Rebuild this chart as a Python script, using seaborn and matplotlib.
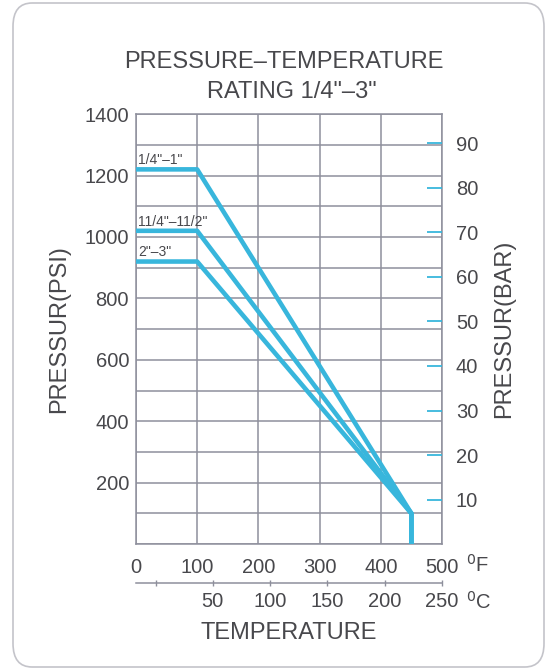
import numpy as np
import pandas as pd
import matplotlib.pyplot as plt
from matplotlib.patches import FancyBboxPatch
import seaborn as sns

# data
temp_f = [0, 100, 450, 450]
sizes = ['1/4"\u20131"', '11/4"\u201311/2"', '2"\u20133"']
psi_small = [1220, 1220, 100, 0]
psi_mid = [1020, 1020, 100, 0]
psi_large = [920, 920, 100, 0]

f_ticks = [0, 100, 200, 300, 400, 500]
c_ticks = [0, 50, 100, 150, 200, 250]
psi_ticks = [200, 400, 600, 800, 1000, 1200, 1400]
bar_ticks = [10, 20, 30, 40, 50, 60, 70, 80, 90]

PSI_PER_BAR = 14.5038
LINE = '#38b6dc'
TEXT = '#48484c'
GRID = '#8e8f9c'

sns.set_style('white')
plt.rcParams['font.family'] = ['Liberation Sans', 'DejaVu Sans']

df = pd.DataFrame({
    'temp': temp_f * 3,
    'psi': psi_small + psi_mid + psi_large,
    'size': [s for s in sizes for _ in temp_f],
})

fig = plt.figure(figsize=(5.46, 6.71), dpi=100)
fig.patch.set_facecolor('white')
box = FancyBboxPatch((13 / 546, 4 / 671), 531 / 546, 664 / 671,
                     boxstyle='round,pad=0,rounding_size=0.035',
                     transform=fig.transFigure, facecolor='white',
                     edgecolor='#c4c4ca', linewidth=1.2, zorder=-5)
fig.patches.append(box)

ax = fig.add_axes([0.249, 0.189, 0.5605, 0.641])
ax.patch.set_alpha(0)
for s in sizes:
    sub = df[df['size'] == s]
    sns.lineplot(data=sub, x='temp', y='psi', sort=False, estimator=None,
                 color=LINE, linewidth=3.3, ax=ax, zorder=3)

ax.set_xlim(0, 500)
ax.set_ylim(0, 1400)
ax.set_xticks(f_ticks)
ax.set_yticks(np.arange(0, 1401, 100), minor=False)
ax.set_yticklabels([str(v) if v in psi_ticks else '' for v in np.arange(0, 1401, 100)])
ax.grid(True, color=GRID, linewidth=1.1)
ax.tick_params(axis='both', length=0, labelsize=14.5, colors=TEXT)
ax.tick_params(axis='x', pad=10)
ax.tick_params(axis='y', pad=5)
for sp in ax.spines.values():
    sp.set_color(GRID)
    sp.set_linewidth(1.1)
ax.set_xlabel('')
ax.set_ylabel('PRESSUR(PSI)', fontsize=17, color=TEXT, labelpad=10)

# size labels above each flat section
for s, p in zip(sizes, [psi_small[0], psi_mid[0], psi_large[0]]):
    ax.text(4, p + 30, s, fontsize=10, color=TEXT, va='center', ha='left')

# right axis in bar
ax2 = ax.twinx()
ax2.set_ylim(0, 1400 / PSI_PER_BAR)
ax2.set_yticks(bar_ticks)
ax2.tick_params(axis='y', direction='in', length=11, width=1.3, color=LINE,
                labelsize=14.5, labelcolor=TEXT, pad=10)
for sp in ax2.spines.values():
    sp.set_visible(False)
ax2.set_ylabel('PRESSUR(BAR)', fontsize=17, color=TEXT, rotation=90, labelpad=11)

# celsius scale under the fahrenheit labels
sec = ax.secondary_xaxis(-0.09, functions=(lambda f: (f - 32) / 1.872,
                                            lambda c: c * 1.872 + 32))
sec.set_xticks(c_ticks)
sec.set_xticklabels([''] + [str(c) for c in c_ticks[1:]])
sec.tick_params(axis='x', direction='inout', length=5, width=1, color=GRID,
                labelsize=14.5, labelcolor=TEXT, pad=4)
sec.spines['bottom'].set_color(GRID)
sec.spines['bottom'].set_linewidth(1.1)
sec.set_xlabel('TEMPERATURE', fontsize=17, color=TEXT, labelpad=8)

ax.annotate('$^{0}$F', xy=(1.0, -0.049), xycoords='axes fraction',
            xytext=(17, 0), textcoords='offset points', fontsize=14.5,
            color=TEXT, ha='left', va='center')
ax.annotate('$^{0}$C', xy=(1.0, -0.135), xycoords='axes fraction',
            xytext=(17, 0), textcoords='offset points', fontsize=14.5,
            color=TEXT, ha='left', va='center')

fig.text(0.52, 0.9076, 'PRESSURE\u2013TEMPERATURE', fontsize=17, color=TEXT,
         ha='center', va='center')
fig.text(0.535, 0.863, 'RATING 1/4"\u20133"', fontsize=17, color=TEXT,
         ha='center', va='center')

fig.savefig('out.png', dpi=100)
